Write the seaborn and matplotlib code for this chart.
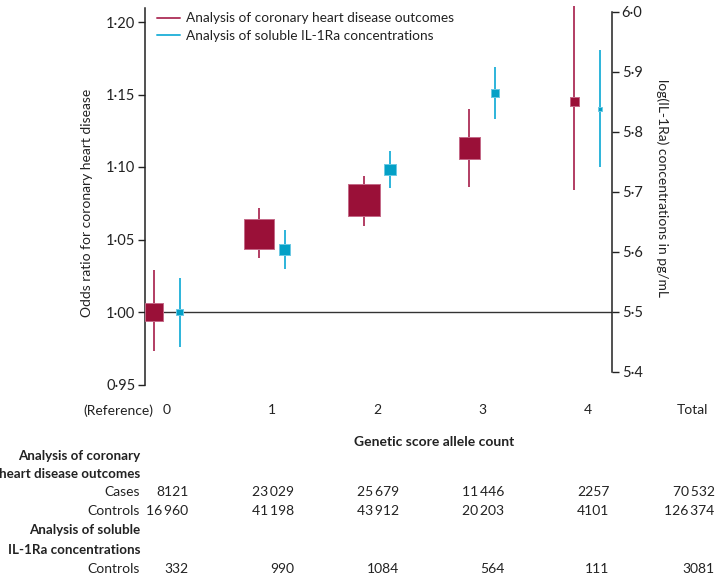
import numpy as np
import pandas as pd
import matplotlib
matplotlib.use("Agg")
import matplotlib.pyplot as plt
import matplotlib.transforms as mtransforms
from matplotlib.lines import Line2D
import seaborn as sns

# ============================
# Dane
# ============================
allele_count = [0, 1, 2, 3, 4]
col_labels = ["0", "1", "2", "3", "4", "Total"]

chd_or = [1.000, 1.054, 1.077, 1.113, 1.145]
chd_lo = [0.973, 1.037, 1.059, 1.086, 1.084]
chd_hi = [1.029, 1.072, 1.094, 1.140, 1.211]

il_mean = [5.500, 5.604, 5.737, 5.865, 5.839]
il_lo = [5.442, 5.571, 5.706, 5.822, 5.741]
il_hi = [5.557, 5.636, 5.768, 5.909, 5.937]

chd_cases = [8121, 23029, 25679, 11446, 2257, 70532]
chd_controls = [16960, 41198, 43912, 20203, 4101, 126374]
il_controls = [332, 990, 1084, 564, 111, 3081]

CHD_LINE = "#b23d63"
CHD_BOX = "#9a1038"
CHD_EDGE = "#c46a88"
IL_LINE = "#2db4da"
IL_BOX = "#04a0c6"
IL_EDGE = "#6cc9e4"

# ============================
# Ustawienia globalne
# ============================
sns.set_style("white")
plt.rcParams['font.family'] = ['Lato', 'DejaVu Sans']
plt.rcParams['font.size'] = 10
plt.rcParams['text.color'] = '#222222'
plt.rcParams['axes.edgecolor'] = '#222222'
plt.rcParams['xtick.color'] = '#222222'
plt.rcParams['ytick.color'] = '#222222'

W, H = 716, 575
fig = plt.figure(figsize=(W / 100, H / 100), dpi=100)
ax = fig.add_axes([145 / W, 1 - 384.5 / H, 467 / W, 377 / H])
ax2 = ax.twinx()

# pozycje kategorii
x0, dx = 166.6, 105.2
off = 13 / dx
ax.set_xlim((145 - x0) / dx, (612 - x0) / dx)
ax.set_ylim(0.95, 1.21)
ax2.set_ylim(5.5 - 72.5 / 600, 5.5 - 72.5 / 600 + 377 / 600)

cat = np.array(allele_count, dtype=float)
df_chd = pd.DataFrame({'x': cat - off, 'y': chd_or, 'lo': chd_lo, 'hi': chd_hi,
                       'n': chd_cases[:5]})
df_il = pd.DataFrame({'x': cat + off, 'y': il_mean, 'lo': il_lo, 'hi': il_hi,
                      'n': il_controls[:5]})

# linia odniesienia
ax.axhline(1.0, color='#333333', lw=1.0, zorder=1)

# przedzialy ufnosci
ax.vlines(df_chd['x'], df_chd['lo'], df_chd['hi'], color=CHD_LINE, lw=1.4,
          zorder=2, clip_on=False)
ax2.vlines(df_il['x'], df_il['lo'], df_il['hi'], color=IL_LINE, lw=1.4,
           zorder=2, clip_on=False)

# kwadraty (pole proporcjonalne do liczebnosci)
sns.scatterplot(data=df_chd, x='x', y='y', marker='s', s=0.0207 * df_chd['n'],
                color=CHD_BOX, edgecolor=CHD_EDGE, linewidth=0.7, ax=ax, zorder=3)
sns.scatterplot(data=df_il, x='x', y='y', marker='s', s=0.06 * df_il['n'] + 2,
                color=IL_BOX, edgecolor=IL_EDGE, linewidth=0.7, ax=ax2, zorder=3)

# osie
for a in (ax, ax2):
    a.set_xlabel('')
    a.set_ylabel('')
    a.set_xticks([])
    a.patch.set_visible(False)
    for s in ('top', 'bottom'):
        a.spines[s].set_visible(False)
ax.spines['right'].set_visible(False)
ax2.spines['left'].set_visible(False)
ax.spines['left'].set_bounds(0.95, 1.21)
ax2.spines['right'].set_bounds(5.4, 6.0)
ax.spines['left'].set_linewidth(1.1)
ax2.spines['right'].set_linewidth(1.1)

lt = [0.95, 1.00, 1.05, 1.10, 1.15, 1.20]
ax.set_yticks(lt)
ax.set_yticklabels([f"{v:.2f}".replace('.', '\u00b7') for v in lt])
rt = [5.4, 5.5, 5.6, 5.7, 5.8, 5.9, 6.0]
ax2.set_yticks(rt)
ax2.set_yticklabels([f"{v:.1f}".replace('.', '\u00b7') for v in rt])
ax.tick_params(axis='y', direction='out', length=5, width=1, pad=2, labelsize=10.5)
ax2.tick_params(axis='y', direction='out', length=5, width=1, pad=2, labelsize=10.5)

fig.text(87 / W, 1 - 202.5 / H, 'Odds ratio for coronary heart disease',
         rotation=90, ha='center', va='center')
fig.text(662 / W, 1 - 188 / H, 'log(IL-1Ra) concentrations in pg/mL',
         rotation=-90, ha='center', va='center')

# legenda
handles = [Line2D([], [], color=CHD_LINE, lw=1.4),
           Line2D([], [], color=IL_LINE, lw=1.4)]
ax.legend(handles, ['Analysis of coronary heart disease outcomes',
                    'Analysis of soluble IL-1Ra concentrations'],
          loc='upper left', bbox_to_anchor=(12 / 467, 1 - 5 / 377), frameon=False,
          borderpad=0, borderaxespad=0, handlelength=1.7, handletextpad=0.4,
          labelspacing=0.4, fontsize=9.8)

# ============================
# Tabela pod wykresem
# ============================
def fmt(n):
    s = str(n)
    if n >= 10000:
        s = s[:-3] + '\u2009' + s[-3:]
    return s

blend = mtransforms.blended_transform_factory(ax.transData, fig.transFigure)
def fy(ypx):
    return 1 - ypx / H

for i, lab in enumerate(col_labels):
    fig.text(i, fy(410.5), lab, transform=blend, ha='center', va='center')
fig.text(0 - 13 / dx, fy(410.5), '(Reference)', transform=blend, ha='right', va='center')
fig.text(434 / W, fy(441.5), 'Genetic score allele count', ha='center', va='center',
         fontweight='bold')

lab_x = 140 / W
bold = dict(ha='right', va='center', fontweight='bold', fontsize=9.6)
fig.text(lab_x, fy(455.5), 'Analysis of coronary', **bold)
fig.text(lab_x, fy(473.5), 'heart disease outcomes', **bold)
fig.text(lab_x, fy(492.5), 'Cases', ha='right', va='center')
fig.text(lab_x, fy(511), 'Controls', ha='right', va='center')
fig.text(lab_x, fy(530.5), 'Analysis of soluble', **bold)
fig.text(lab_x, fy(549.5), 'IL-1Ra concentrations', **bold)
fig.text(lab_x, fy(569), 'Controls', ha='right', va='center')

num_off = 22 / dx
for i in range(6):
    fig.text(i + num_off, fy(492.5), fmt(chd_cases[i]), transform=blend, ha='right', va='center')
    fig.text(i + num_off, fy(511), fmt(chd_controls[i]), transform=blend, ha='right', va='center')
    fig.text(i + num_off, fy(569), fmt(il_controls[i]), transform=blend, ha='right', va='center')

fig.savefig('out.png', dpi=100)
